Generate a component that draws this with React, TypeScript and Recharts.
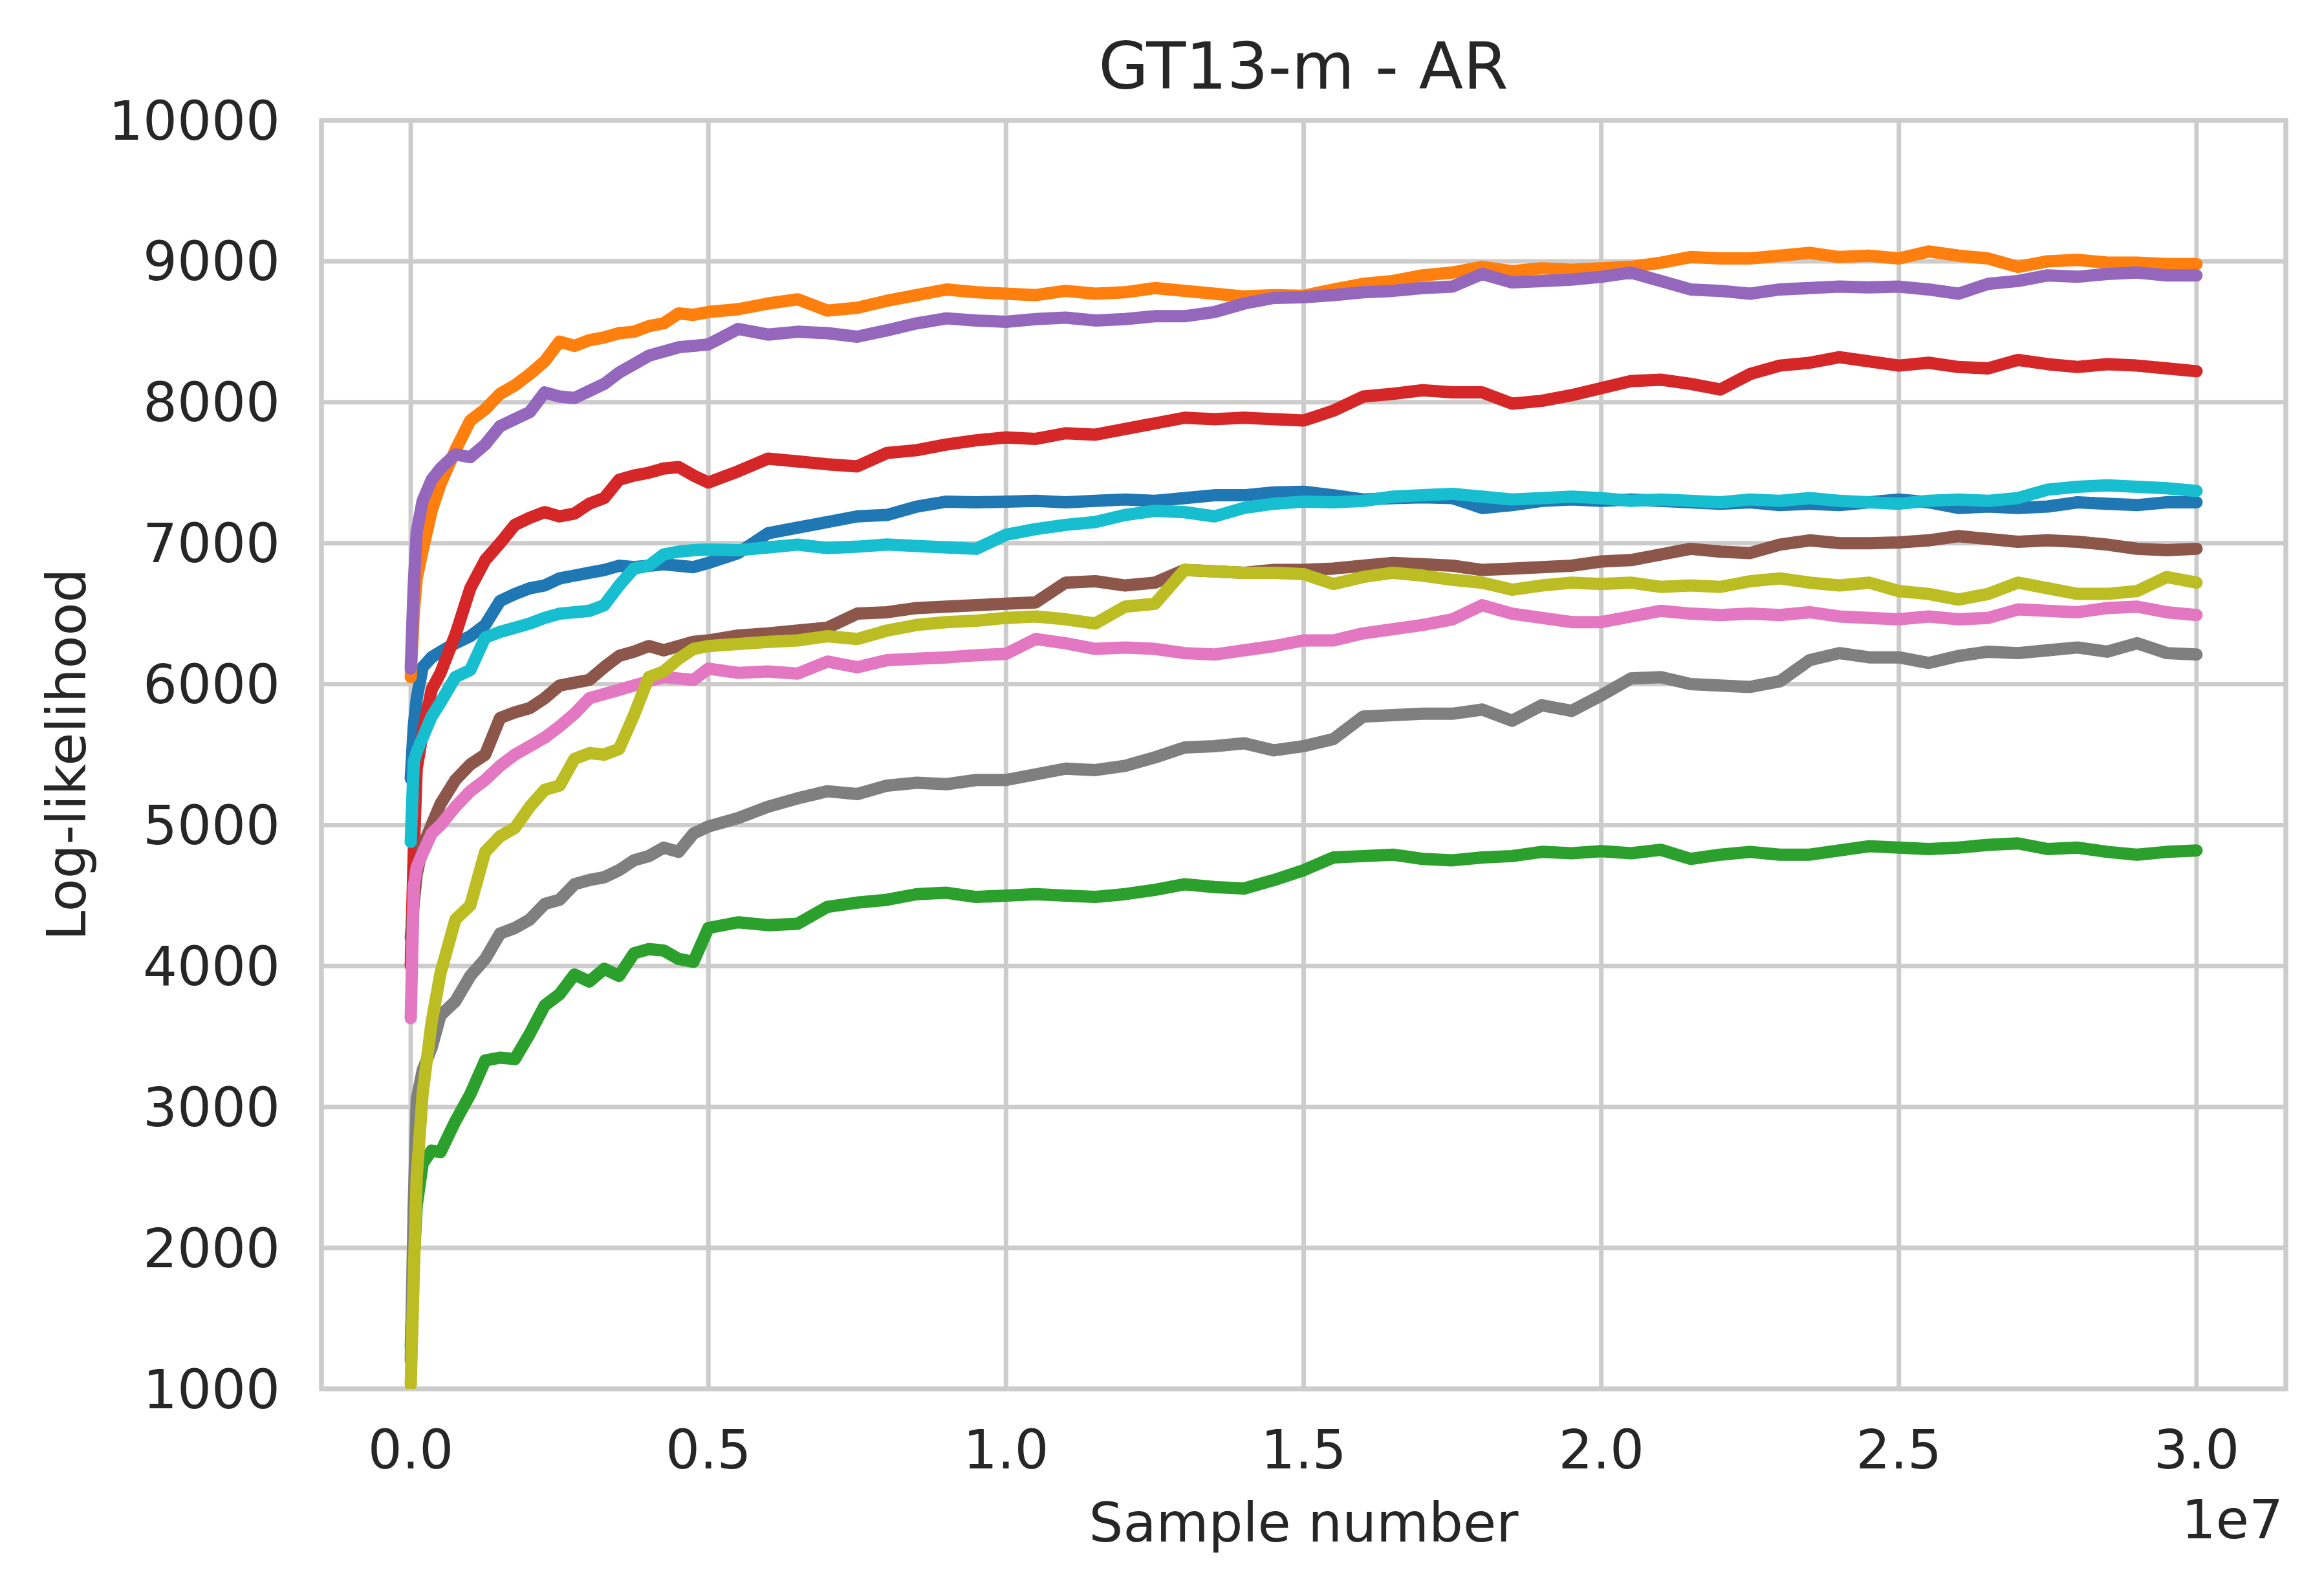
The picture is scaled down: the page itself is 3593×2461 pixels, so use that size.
import React from 'react';
import { LineChart, Line, XAxis, YAxis, CartesianGrid, ReferenceArea, Label } from 'recharts';

// Sample number positions, in units of 1e7
const SAMPLE_E7 = [
  0, 0.005, 0.01, 0.02, 0.035, 0.05, 0.075, 0.1, 0.125, 0.15, 0.175, 0.2,
  0.225, 0.25, 0.275, 0.3, 0.325, 0.35, 0.375, 0.4, 0.425, 0.45, 0.475, 0.5,
  0.55, 0.6, 0.65, 0.7, 0.75, 0.8, 0.85, 0.9, 0.95, 1.0,
  1.05, 1.1, 1.15, 1.2, 1.25, 1.3, 1.35, 1.4, 1.45, 1.5,
  1.55, 1.6, 1.65, 1.7, 1.75, 1.8, 1.85, 1.9, 1.95, 2.0,
  2.05, 2.1, 2.15, 2.2, 2.25, 2.3, 2.35, 2.4, 2.45, 2.5,
  2.55, 2.6, 2.65, 2.7, 2.75, 2.8, 2.85, 2.9, 2.95, 3.0,
];

const blue = [
  5330, 5700, 5900, 6120, 6190, 6230, 6290, 6340, 6420, 6590, 6640, 6680,
  6700, 6750, 6770, 6790, 6810, 6840, 6830, 6840, 6850, 6840, 6830, 6860,
  6930, 7070, 7110, 7150, 7190, 7200, 7260, 7295, 7290, 7295,
  7300, 7290, 7300, 7310, 7300, 7320, 7340, 7340, 7360, 7365,
  7340, 7310, 7320, 7325, 7320, 7250, 7270, 7300, 7310, 7300,
  7310, 7300, 7290, 7280, 7290, 7270, 7280, 7270, 7290, 7310,
  7290, 7250, 7260, 7250, 7260, 7290, 7280, 7270, 7290, 7290,
];
const orange = [
  6050, 6500, 6750, 6950, 7230, 7420, 7660, 7870, 7950, 8060, 8120, 8200,
  8290, 8430, 8400, 8440, 8460, 8490, 8500, 8540, 8560, 8630, 8620, 8640,
  8660, 8700, 8730, 8650, 8670, 8720, 8760, 8800, 8780, 8770,
  8760, 8790, 8770, 8780, 8810, 8790, 8770, 8750, 8760, 8755,
  8800, 8840, 8860, 8900, 8920, 8960, 8930, 8950, 8940, 8950,
  8960, 8990, 9030, 9020, 9020, 9040, 9060, 9030, 9040, 9020,
  9070, 9040, 9020, 8960, 9000, 9010, 8990, 8990, 8980, 8980,
];
const green = [
  1300, 1900, 2300, 2600, 2690, 2680, 2900, 3090, 3330, 3350, 3340, 3520,
  3720, 3800, 3940, 3890, 3980, 3930, 4090, 4120, 4110, 4050, 4030, 4270,
  4310, 4290, 4300, 4420, 4450, 4470, 4510, 4520, 4490, 4500,
  4510, 4500, 4490, 4510, 4540, 4580, 4560, 4550, 4610, 4680,
  4770, 4780, 4790, 4760, 4750, 4770, 4780, 4810, 4800, 4815,
  4800, 4825, 4760, 4790, 4810, 4790, 4790, 4820, 4850, 4840,
  4830, 4840, 4860, 4870, 4830, 4840, 4810, 4790, 4810, 4820,
];
const red = [
  4000, 4800, 5400, 5650, 5960, 6080, 6350, 6680, 6880, 7000, 7130, 7180,
  7220, 7190, 7210, 7280, 7320, 7450, 7480, 7500, 7530, 7540, 7480, 7430,
  7510, 7600, 7580, 7560, 7545, 7640, 7660, 7700, 7730, 7750,
  7740, 7780, 7770, 7810, 7850, 7890, 7880, 7890, 7880, 7870,
  7940, 8040, 8060, 8085, 8070, 8070, 7990, 8010, 8050, 8100,
  8150, 8160, 8130, 8090, 8200, 8260, 8280, 8320, 8290, 8260,
  8280, 8250, 8240, 8300, 8270, 8250, 8270, 8260, 8240, 8220,
];
const purple = [
  6110, 6700, 7080, 7300, 7450, 7530, 7630, 7610, 7700, 7830, 7880, 7930,
  8070, 8040, 8030, 8080, 8130, 8210, 8270, 8330, 8360, 8390, 8400, 8410,
  8520, 8480, 8500, 8490, 8465, 8510, 8560, 8595, 8580, 8570,
  8590, 8600, 8580, 8590, 8610, 8610, 8640, 8700, 8740, 8745,
  8760, 8780, 8790, 8810, 8820, 8910, 8850, 8860, 8870, 8890,
  8920, 8860, 8800, 8790, 8770, 8800, 8810, 8820, 8815, 8820,
  8800, 8770, 8840, 8860, 8900, 8890, 8910, 8920, 8900, 8900,
];
const brown = [
  4200, 4450, 4650, 4850, 5000, 5150, 5320, 5430, 5500, 5760, 5800, 5830,
  5900, 5990, 6010, 6030, 6120, 6200, 6230, 6270, 6240, 6270, 6300, 6310,
  6345, 6360, 6380, 6400, 6500, 6510, 6540, 6550, 6560, 6570,
  6580, 6720, 6730, 6700, 6720, 6810, 6800, 6790, 6810, 6810,
  6820, 6840, 6860, 6850, 6840, 6810, 6820, 6830, 6840, 6870,
  6880, 6920, 6960, 6940, 6930, 6990, 7020, 7000, 7000, 7005,
  7020, 7050, 7030, 7010, 7020, 7010, 6990, 6960, 6950, 6960,
];
const pink = [
  3630, 4560, 4700, 4800, 4940, 5000, 5130, 5240, 5320, 5420, 5500, 5560,
  5620, 5700, 5790, 5900, 5930, 5960, 5990, 6020, 6050, 6040, 6030, 6110,
  6080, 6090, 6075, 6160, 6120, 6170, 6180, 6190, 6205, 6215,
  6320, 6290, 6250, 6260, 6250, 6220, 6210, 6240, 6270, 6310,
  6310, 6360, 6390, 6420, 6460, 6560, 6500, 6470, 6440, 6440,
  6480, 6520, 6500, 6490, 6500, 6490, 6510, 6480, 6470, 6460,
  6480, 6460, 6470, 6530, 6520, 6510, 6540, 6550, 6510, 6490,
];
const gray = [
  1200, 2300, 3050, 3260, 3420, 3650, 3750, 3930, 4050, 4230, 4270, 4330,
  4440, 4470, 4580, 4610, 4630, 4680, 4750, 4780, 4840, 4810, 4940, 4990,
  5050, 5130, 5190, 5240, 5220, 5280, 5300, 5290, 5320, 5320,
  5360, 5400, 5390, 5420, 5480, 5550, 5560, 5580, 5530, 5560,
  5610, 5770, 5780, 5790, 5790, 5820, 5740, 5850, 5810, 5920,
  6040, 6050, 6000, 5990, 5980, 6020, 6170, 6220, 6190, 6190,
  6150, 6200, 6230, 6220, 6240, 6260, 6230, 6290, 6220, 6210,
];
const olive = [
  1030, 1800, 2500, 3100, 3600, 3950, 4330, 4430, 4810, 4920, 4980, 5130,
  5250, 5280, 5470, 5510, 5500, 5540, 5780, 6050, 6090, 6180, 6250, 6270,
  6285, 6300, 6310, 6340, 6320, 6380, 6420, 6440, 6450, 6470,
  6480, 6460, 6430, 6550, 6570, 6810, 6800, 6790, 6790, 6780,
  6710, 6760, 6790, 6770, 6740, 6720, 6670, 6700, 6720, 6710,
  6720, 6690, 6700, 6690, 6730, 6750, 6720, 6700, 6720, 6660,
  6640, 6600, 6640, 6720, 6680, 6640, 6640, 6660, 6760, 6720,
];
const cyan = [
  4880, 5450, 5520, 5620, 5770, 5870, 6050, 6100, 6330, 6370, 6400, 6430,
  6470, 6500, 6510, 6520, 6560, 6700, 6820, 6840, 6920, 6940, 6950, 6955,
  6950, 6970, 6990, 6965, 6975, 6990, 6980, 6970, 6960, 7060,
  7100, 7130, 7150, 7200, 7230, 7220, 7190, 7250, 7280, 7295,
  7290, 7300, 7330, 7340, 7350, 7330, 7310, 7320, 7330, 7320,
  7300, 7310, 7300, 7290, 7310, 7300, 7320, 7300, 7290, 7280,
  7300, 7310, 7300, 7320, 7380, 7400, 7410, 7400, 7390, 7370,
];

const X_TICKS = [0, 5e6, 1e7, 1.5e7, 2e7, 2.5e7, 3e7];
const Y_TICKS = [1000, 2000, 3000, 4000, 5000, 6000, 7000, 8000, 9000, 10000];
const TITLE = 'GT13-m - AR';
const X_LABEL = 'Sample number';
const Y_LABEL = 'Log-likelihood';
const OFFSET_TEXT = '1e7';

const SERIES = [
  { key: 'blue', values: blue, color: '#1f77b4' },
  { key: 'orange', values: orange, color: '#ff7f0e' },
  { key: 'green', values: green, color: '#2ca02c' },
  { key: 'red', values: red, color: '#d62728' },
  { key: 'purple', values: purple, color: '#9467bd' },
  { key: 'brown', values: brown, color: '#8c564b' },
  { key: 'pink', values: pink, color: '#e377c2' },
  { key: 'gray', values: gray, color: '#7f7f7f' },
  { key: 'olive', values: olive, color: '#bcbd22' },
  { key: 'cyan', values: cyan, color: '#17becf' },
];

const data = SAMPLE_E7.map((s, i) => {
  const row: Record<string, number> = { x: s * 1e7 };
  SERIES.forEach((ser) => {
    row[ser.key] = ser.values[i];
  });
  return row;
});

const W = 3593;
const H = 2461;
const FONT = '"DejaVu Sans", sans-serif';
const TXT = '#262626';
const GRID = '#cccccc';
const TICK_FS = 83.3;

export default function App() {
  return (
    <div style={{ position: 'absolute', left: 0, top: 0, width: W, height: H, background: '#fff', overflow: 'hidden' }}>
      <LineChart
        width={W}
        height={H}
        data={data}
        margin={{ top: 186, right: 59, bottom: 0, left: 0 }}
      >
        <CartesianGrid stroke={GRID} strokeWidth={7} />
        <XAxis
          dataKey="x"
          type="number"
          domain={[-1.5e6, 3.15e7]}
          ticks={X_TICKS}
          allowDataOverflow
          tickFormatter={(v: number) => (v / 1e7).toFixed(1)}
          axisLine={false}
          tickLine={false}
          tickSize={0}
          tickMargin={64}
          height={314}
          interval={0}
          tick={{ fontSize: TICK_FS, fill: TXT, fontFamily: FONT }}
        >
          <Label
            content={(props: any) => {
              const vb = props.viewBox || {};
              return (
                <text
                  x={vb.x + vb.width / 2}
                  y={vb.y + 236}
                  textAnchor="middle"
                  fontSize={TICK_FS}
                  fontFamily={FONT}
                  fill={TXT}
                >
                  {X_LABEL}
                </text>
              );
            }}
          />
        </XAxis>
        <YAxis
          type="number"
          domain={[1000, 10000]}
          ticks={Y_TICKS}
          allowDataOverflow
          axisLine={false}
          tickLine={false}
          tickSize={0}
          tickMargin={64}
          width={497}
          interval={0}
          tick={{ fontSize: TICK_FS, fill: TXT, fontFamily: FONT }}
        >
          <Label
            content={(props: any) => {
              const vb = props.viewBox || {};
              const cx = vb.x + 132;
              const cy = vb.y + vb.height / 2;
              return (
                <text
                  x={cx}
                  y={cy}
                  transform={`rotate(-90 ${cx} ${cy})`}
                  textAnchor="middle"
                  fontSize={TICK_FS}
                  fontFamily={FONT}
                  fill={TXT}
                >
                  {Y_LABEL}
                </text>
              );
            }}
          />
        </YAxis>
        {SERIES.map((s) => (
          <Line
            key={s.key}
            dataKey={s.key}
            type="linear"
            stroke={s.color}
            strokeWidth={19}
            strokeLinejoin="round"
            strokeLinecap="round"
            dot={false}
            activeDot={false}
            isAnimationActive={false}
          />
        ))}
        <ReferenceArea
          x1={-1.5e6}
          x2={3.15e7}
          y1={1000}
          y2={10000}
          fill="none"
          fillOpacity={0}
          stroke={GRID}
          strokeWidth={7}
          ifOverflow="visible"
        />
      </LineChart>
      <svg
        width={W}
        height={H}
        style={{ position: 'absolute', left: 0, top: 0, pointerEvents: 'none' }}
      >
        <text x={2015} y={137} textAnchor="middle" fontSize={100} fontFamily={FONT} fill={TXT}>
          {TITLE}
        </text>
        <text x={3530} y={2378} textAnchor="end" fontSize={TICK_FS} fontFamily={FONT} fill={TXT}>
          {OFFSET_TEXT}
        </text>
      </svg>
    </div>
  );
}
